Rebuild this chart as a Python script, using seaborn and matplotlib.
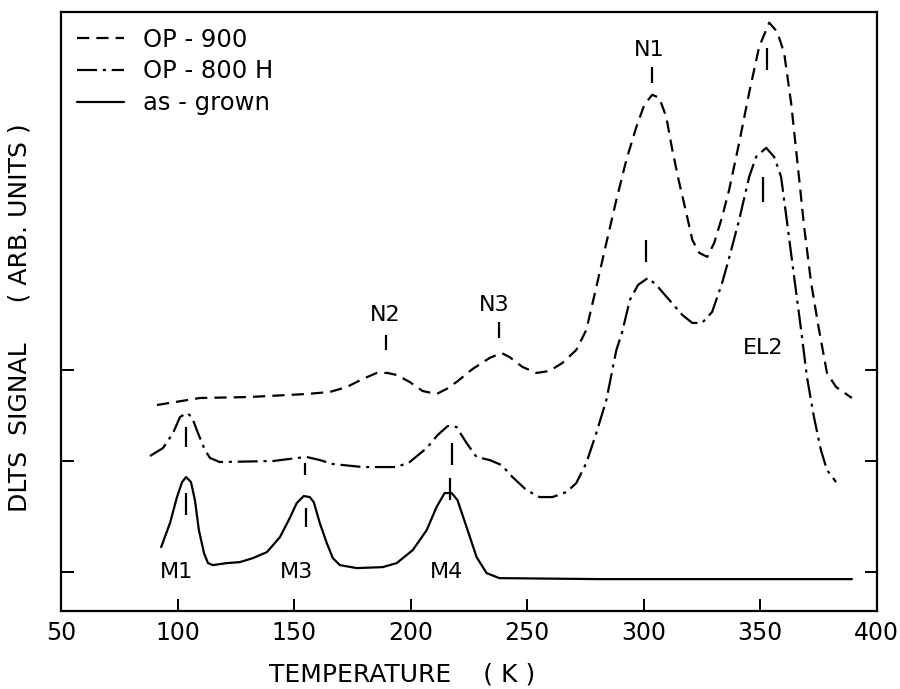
"""DLTS spectra of as-grown and annealed samples"""

import matplotlib
matplotlib.use("Agg")
import matplotlib.pyplot as plt
import seaborn as sns
import pandas as pd

# ---- data ----
op900_T = [91.1, 109.6, 131.0, 155.4, 165.3, 172.6, 179.4, 185.4, 190.1, 194.0,
           199.6, 205.1, 211.1, 215.4, 219.7, 226.6, 233.9, 239.0, 242.4, 248.0,
           254.0, 259.6, 265.1, 271.1, 275.4, 279.7, 284.0, 288.3, 292.6, 296.9,
           300.3, 303.7, 306.7, 309.7, 312.3, 315.3, 318.3, 320.9, 323.9, 327.3,
           330.3, 333.7, 336.7, 341.0, 345.3, 349.6, 353.9, 357.3, 360.3, 363.3,
           365.9, 368.9, 371.9, 375.3, 378.7, 382.6, 389.4]
op900_S = [2.06, 2.13, 2.14, 2.17, 2.19, 2.24, 2.32, 2.38, 2.38, 2.36,
           2.29, 2.20, 2.17, 2.22, 2.29, 2.42, 2.53, 2.58, 2.54, 2.44,
           2.38, 2.40, 2.48, 2.61, 2.81, 3.24, 3.68, 4.11, 4.51, 4.84,
           5.06, 5.16, 5.13, 4.94, 4.61, 4.28, 3.98, 3.71, 3.58, 3.54,
           3.68, 3.94, 4.21, 4.68, 5.18, 5.64, 5.88, 5.79, 5.58, 5.08,
           4.51, 3.84, 3.28, 2.81, 2.38, 2.24, 2.13]

op800h_T = [88.1, 93.7, 98.0, 101.0, 104.0, 106.1, 108.7, 111.7, 113.9, 118.1,
            140.9, 151.1, 155.4, 161.0, 166.6, 179.4, 194.0, 199.6, 206.9, 211.6,
            215.9, 219.7, 224.0, 228.3, 233.9, 239.0, 243.7, 249.7, 255.3, 260.9,
            266.9, 271.1, 275.4, 279.7, 284.0, 288.3, 290.7, 294.1, 297.6, 301.9,
            305.4, 311.0, 316.6, 320.9, 325.1, 329.4, 333.7, 336.7, 341.0, 345.3,
            348.3, 352.6, 356.0, 359.0, 361.6, 364.6, 367.6, 370.1, 373.1, 376.1,
            378.7, 382.6]
op800h_S = [1.55, 1.63, 1.78, 1.94, 1.98, 1.94, 1.78, 1.61, 1.53, 1.49,
            1.50, 1.53, 1.54, 1.51, 1.47, 1.44, 1.44, 1.49, 1.63, 1.76,
            1.85, 1.84, 1.68, 1.54, 1.51, 1.46, 1.34, 1.21, 1.14, 1.14,
            1.19, 1.28, 1.48, 1.78, 2.11, 2.61, 2.78, 3.11, 3.26, 3.33,
            3.26, 3.11, 2.96, 2.88, 2.88, 2.99, 3.28, 3.53, 3.91, 4.34,
            4.54, 4.63, 4.54, 4.34, 3.88, 3.34, 2.81, 2.34, 1.94, 1.61,
            1.41, 1.29]

asgrown_T = [92.9, 96.7, 99.7, 101.9, 103.6, 105.7, 107.4, 109.1, 111.3, 113.0,
             115.1, 121.1, 126.7, 132.3, 138.3, 143.9, 148.1, 151.1, 154.1, 156.7,
             158.4, 161.0, 164.0, 166.6, 169.6, 176.9, 188.0, 194.0, 200.9, 206.9,
             211.1, 214.6, 217.6, 220.1, 224.0, 228.3, 232.6, 238.1, 281.0, 389.4]
asgrown_S = [0.64, 0.88, 1.14, 1.29, 1.34, 1.29, 1.11, 0.81, 0.58, 0.48,
             0.46, 0.48, 0.49, 0.53, 0.59, 0.74, 0.93, 1.08, 1.15, 1.14,
             1.09, 0.88, 0.68, 0.53, 0.46, 0.43, 0.44, 0.48, 0.61, 0.81,
             1.04, 1.18, 1.18, 1.11, 0.84, 0.54, 0.38, 0.33, 0.32, 0.32]

series_names = ["OP - 900", "OP - 800 H", "as - grown"]
series_styles = [(0, (5.5, 3.2)), (0, (9, 2.6, 1.4, 2.6)), "-"]

# peak markers: temperature, lower end, upper end
mark_T = [189.3, 238.1, 303.7, 353.0, 301.1, 351.3, 103.6, 154.6, 217.6, 103.6, 155.0, 216.7]
mark_lo = [2.61, 2.73, 5.28, 5.41, 3.49, 4.09, 1.64, 1.36, 1.46, 0.96, 0.84, 1.11]
mark_hi = [2.76, 2.89, 5.44, 5.63, 3.71, 4.34, 1.84, 1.48, 1.68, 1.18, 1.03, 1.33]

# peak labels
label_text = ["N2", "N3", "N1", "EL2", "M1", "M3", "M4"]
label_T = [189.0, 236.0, 302.4, 351.3, 99.7, 151.1, 215.4]
label_S = [2.96, 3.06, 5.61, 2.63, 0.39, 0.39, 0.39]

x_ticks = [50, 100, 150, 200, 250, 300, 350, 400]
y_ticks = [0.39, 1.50, 2.41]

frames = []
for name, T, S in zip(series_names, [op900_T, op800h_T, asgrown_T],
                      [op900_S, op800h_S, asgrown_S]):
    frames.append(pd.DataFrame({"T": T, "S": S, "sample": name}))
df = pd.concat(frames, ignore_index=True)

sns.set_style("ticks")
plt.rcParams["font.family"] = ["DejaVu Sans"]
for key in ["text.color", "axes.labelcolor", "xtick.color", "ytick.color", "axes.edgecolor"]:
    plt.rcParams[key] = "black"

fig = plt.figure(figsize=(9, 6.89), dpi=100)
ax = fig.add_axes([0.068, 0.113, 0.906, 0.870])

for name, ls in zip(series_names, series_styles):
    sub = df[df["sample"] == name]
    sns.lineplot(data=sub, x="T", y="S", ax=ax, color="black", lw=1.6,
                 linestyle=ls, sort=False, estimator=None, label=name)

ax.vlines(mark_T, mark_lo, mark_hi, color="black", lw=1.6)
for t, x, y in zip(label_text, label_T, label_S):
    ax.text(x, y, t, ha="center", va="center", fontsize=16)

ax.set_xlim(50, 400)
ax.set_ylim(0, 5.99)
ax.set_xticks(x_ticks)
ax.set_yticks(y_ticks)
ax.set_yticklabels([])
ax.tick_params(axis="both", direction="in", length=9, width=1.4,
               labelsize=17, right=True, pad=7)
for sp in ax.spines.values():
    sp.set_linewidth(1.6)

ax.set_xlabel("TEMPERATURE    ( K )", fontsize=18)
ax.xaxis.set_label_coords(0.418, -0.085)
ax.set_ylabel("DLTS  SIGNAL     ( ARB. UNITS )", fontsize=18)
ax.yaxis.set_label_coords(-0.036, 0.49)

leg = ax.legend(loc="upper left", frameon=False, fontsize=17.5, handlelength=1.95,
                handletextpad=0.75, labelspacing=0.32, borderaxespad=0.25,
                borderpad=0.4)

fig.savefig("out.png", dpi=100)
plt.close(fig)
